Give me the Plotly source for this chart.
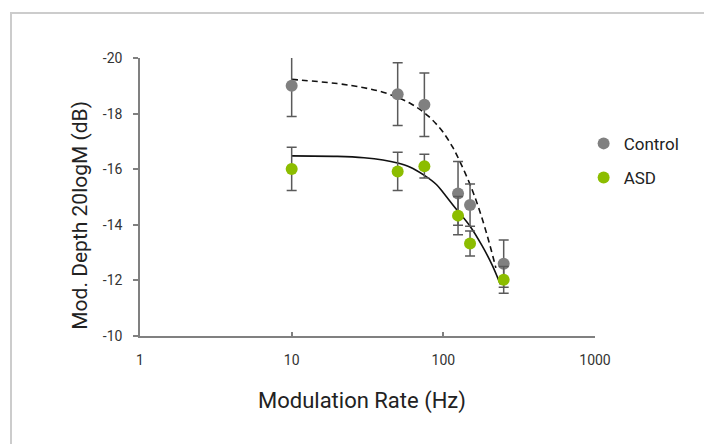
import plotly.graph_objects as go

# ---- data ----
rates = [10, 50, 75, 125, 150, 250]
control_depth = [-19.0, -18.7, -18.32, -15.13, -14.71, -12.6]
control_err = [1.1, 1.13, 1.14, 1.15, 0.76, 0.85]
asd_depth = [-16.01, -15.92, -16.11, -14.33, -13.33, -12.02]
asd_err = [0.78, 0.69, 0.43, 0.69, 0.45, 0.48]

# fitted curves
control_fit_x = [10, 20, 30, 40, 50, 60, 70, 80, 90, 100, 115, 130, 150, 170, 195, 222]
control_fit_y = [-19.23, -19.08, -18.93, -18.77, -18.58, -18.38, -18.15, -17.9, -17.62,
                 -17.32, -16.8, -16.22, -15.45, -14.65, -13.6, -12.45]
asd_fit_x = [10, 20, 30, 40, 50, 60, 75, 90, 100, 120, 150, 180, 210, 238]
asd_fit_y = [-16.48, -16.46, -16.41, -16.33, -16.22, -16.08, -15.78, -15.45, -15.15,
             -14.6, -13.95, -13.25, -12.55, -11.85]

x_tickvals = [1, 10, 100, 1000]
x_ticktext = ["1", "10", "100", "1000"]
y_tickvals = [-20, -18, -16, -14, -12, -10]
y_ticktext = ["-20", "-18", "-16", "-14", "-12", "-10"]

FONT = "Roboto, Arial, sans-serif"
AXIS_GRAY = "#808080"
ERR_GRAY = "#5a5a5a"

fig = go.Figure()

fig.add_trace(go.Scatter(x=control_fit_x, y=control_fit_y, mode="lines",
                         line=dict(color="#111111", width=1.6, dash="6px,4px", shape="spline"),
                         showlegend=False, hoverinfo="skip"))
fig.add_trace(go.Scatter(x=asd_fit_x, y=asd_fit_y, mode="lines",
                         line=dict(color="#111111", width=1.6, shape="spline"),
                         showlegend=False, hoverinfo="skip"))

fig.add_trace(go.Scatter(x=rates, y=control_depth, mode="markers", name="Control",
                         legendgroup="c",
                         marker=dict(color="#808080", size=12),
                         error_y=dict(type="data", array=control_err, color=ERR_GRAY,
                                      thickness=1.5, width=5)))
fig.add_trace(go.Scatter(x=rates, y=asd_depth, mode="markers", name="ASD",
                         legendgroup="a",
                         marker=dict(color="#8cbd00", size=12),
                         error_y=dict(type="data", array=asd_err, color=ERR_GRAY,
                                      thickness=1.5, width=5)))

fig.update_layout(
    width=712, height=444,
    margin=dict(l=132, r=125, t=50, b=116),
    paper_bgcolor="white", plot_bgcolor="white",
    font=dict(family=FONT, size=14, color="#333333"),
    legend=dict(x=0.975, y=0.756, xanchor="left", yanchor="top",
                traceorder="grouped", tracegroupgap=9,
                font=dict(family=FONT, size=17, color="#222222"),
                bgcolor="rgba(0,0,0,0)"),
    xaxis=dict(type="log", range=[0, 3], tickvals=x_tickvals, ticktext=x_ticktext,
               showline=True, linecolor=AXIS_GRAY, linewidth=1.5,
               ticks="inside", ticklen=4, tickcolor=AXIS_GRAY, tickwidth=1.5,
               showgrid=False, zeroline=False, ticklabelstandoff=10,
               tickfont=dict(family=FONT, size=14, color="#333333")),
    yaxis=dict(range=[-10, -20], tickvals=y_tickvals, ticktext=y_ticktext,
               showline=True, linecolor=AXIS_GRAY, linewidth=1.5,
               ticks="outside", ticklen=5, tickcolor=AXIS_GRAY, tickwidth=1.5,
               showgrid=False, zeroline=False, ticklabelstandoff=8,
               tickfont=dict(family=FONT, size=14, color="#333333")),
    shapes=[dict(type="rect", xref="paper", yref="paper",
                 x0=-0.2835, x1=1.3, y0=-0.45, y1=1.162,
                 line=dict(color="#cccccc", width=2), fillcolor="rgba(0,0,0,0)",
                 layer="below")],
    annotations=[
        dict(text="Mod. Depth 20logM (dB)", xref="paper", yref="paper",
             x=-0.132, y=0.436, xanchor="center", yanchor="middle", textangle=-90,
             showarrow=False, font=dict(family=FONT, size=21, color="#222222")),
        dict(text="Modulation Rate (Hz)", xref="paper", yref="paper",
             x=0.488, y=-0.234, xanchor="center", yanchor="middle",
             showarrow=False, font=dict(family=FONT, size=22, color="#222222")),
    ],
)

fig.write_html("out.html")
